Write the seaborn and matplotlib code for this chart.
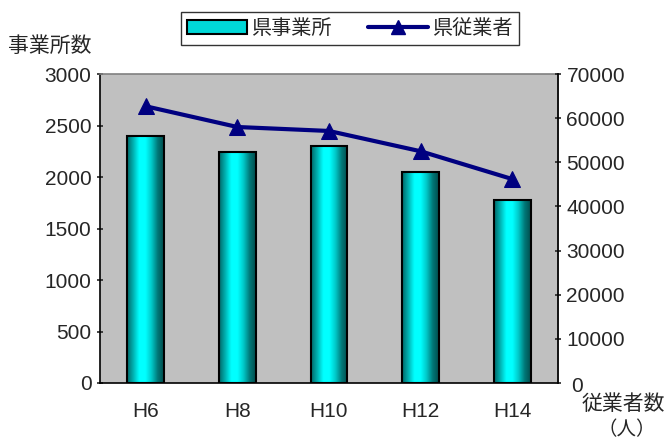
import matplotlib
matplotlib.use("Agg")
import matplotlib.pyplot as plt
import numpy as np
import pandas as pd
import seaborn as sns
from matplotlib.colors import LinearSegmentedColormap
from matplotlib.lines import Line2D
from matplotlib.patches import Patch

# data
years = ["H6", "H8", "H10", "H12", "H14"]
offices = [2400, 2240, 2300, 2050, 1780]
employees = [62700, 58000, 57100, 52500, 46200]

sns.set_style("white")
plt.rcParams["font.family"] = ["Liberation Sans", "Noto Sans CJK JP", "DejaVu Sans"]
JP = ["Noto Sans CJK JP", "DejaVu Sans"]
FS = 15

df = pd.DataFrame({"year": years, "offices": offices, "employees": employees})

fig = plt.figure(figsize=(6.7, 4.42), dpi=100)
ax = fig.add_axes([0.149, 0.1335, 0.684, 0.699])
ax.set_facecolor("#C0C0C0")

sns.barplot(data=df, x="year", y="offices", ax=ax, width=0.4,
            color="#00FFFF", edgecolor="black", linewidth=1.5, saturation=1)

# cylinder-like gradient fill on each bar
cyl = LinearSegmentedColormap.from_list(
    "cyl", ["#006666", "#00B0B0", "#00FFFF", "#00FFFF", "#00C8C8", "#007878", "#004C4C"])
grad = np.linspace(0, 1, 256).reshape(1, -1)
for bar in ax.patches:
    x0, y0 = bar.get_x(), bar.get_y()
    w, h = bar.get_width(), bar.get_height()
    im = ax.imshow(grad, cmap=cyl, aspect="auto", extent=[x0, x0 + w, y0, y0 + h],
                   zorder=bar.get_zorder() + 0.1)
    im.set_clip_path(bar)
    bar.set_facecolor("none")
    bar.set_zorder(bar.get_zorder() + 0.2)

ax.set_xlim(-0.5, 4.5)
ax.set_ylim(0, 3000)
ax.set_yticks(range(0, 3001, 500))
ax.set_xlabel("")
ax.set_ylabel("")
ax.tick_params(axis="both", labelsize=FS, length=5, width=1.2, direction="inout")
ax.tick_params(axis="x", length=0, pad=14)
for s in ax.spines.values():
    s.set_color("#808080")
    s.set_linewidth(1.2)
ax.spines["left"].set_color("black")
ax.spines["bottom"].set_color("black")

ax2 = ax.twinx()
sns.lineplot(data=df, x="year", y="employees", ax=ax2, color="#000080",
             linewidth=3, marker="^", markersize=11, markeredgecolor="#000080",
             sort=False)
ax2.set_ylim(0, 70000)
ax2.set_yticks(range(0, 70001, 10000))
ax2.set_yticklabels([""] + [str(v) for v in range(10000, 70001, 10000)])
ax2.set_ylabel("")
ax2.tick_params(axis="y", labelsize=FS, length=5, width=1.2, direction="inout")
ax2.spines["right"].set_color("black")
ax2.spines["right"].set_linewidth(1.2)
for k in ("left", "top", "bottom"):
    ax2.spines[k].set_visible(False)

# lowered "0" on the right axis and axis titles
fig.text(0.852, 0.125, "0", fontsize=FS, ha="left", va="center")
fig.text(0.012, 0.897, "事業所数", fontsize=FS, family=JP, ha="left", va="center")
fig.text(0.93, 0.085, "従業者数", fontsize=FS, family=JP, ha="center", va="center")
fig.text(0.935, 0.028, "（人）", fontsize=FS - 1, family=JP, ha="center", va="center")

handles = [
    Patch(facecolor="#00D8D8", edgecolor="black", linewidth=1.5),
    Line2D([0], [0], color="#000080", linewidth=3, marker="^", markersize=10),
]
leg = fig.legend(handles, ["県事業所", "県従業者"], loc="center",
                 bbox_to_anchor=(0.522, 0.935), ncol=2, frameon=True, fancybox=False,
                 prop={"family": JP, "size": FS - 0.5}, handlelength=3.0, handletextpad=0.2,
                 columnspacing=1.8, borderpad=0.3)
leg.get_frame().set_edgecolor("black")
leg.get_frame().set_linewidth(1.0)

fig.savefig("out.png", dpi=100)
